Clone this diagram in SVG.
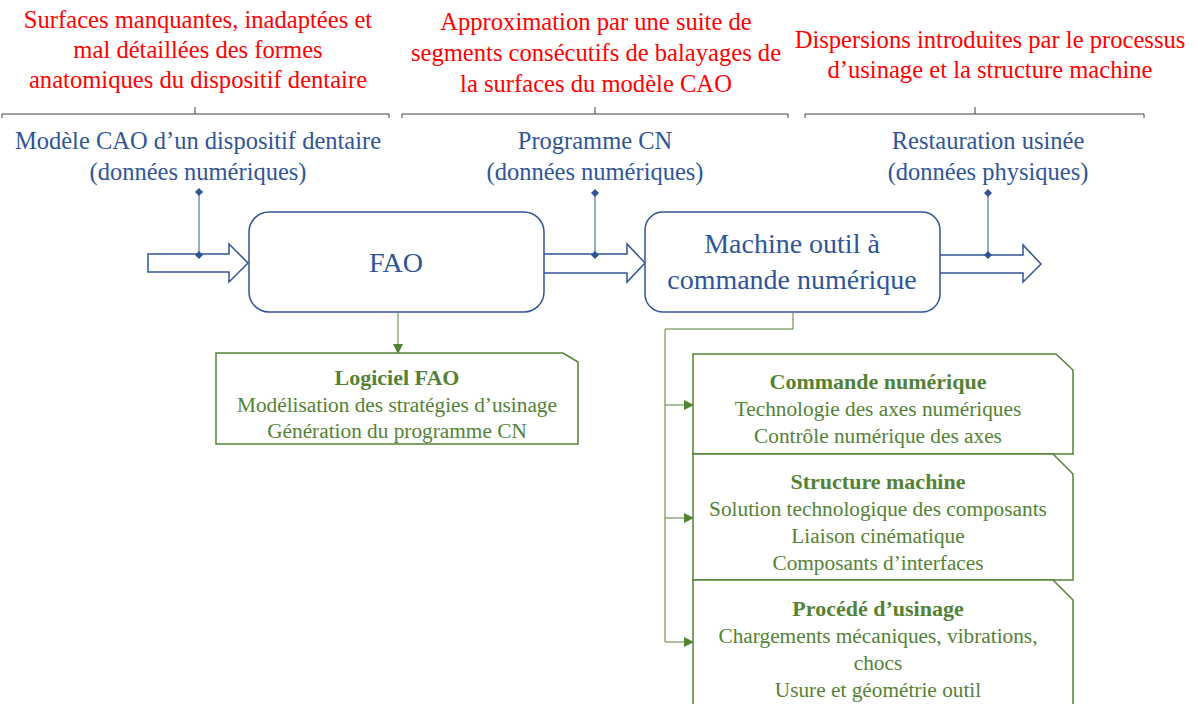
<svg xmlns="http://www.w3.org/2000/svg" width="1195" height="704" viewBox="0 0 1195 704">
<style>
text{font-family:"Liberation Serif","DejaVu Serif",serif;text-anchor:middle}
.red{fill:#FF0000;font-size:24.6px}
.blue{fill:#2F5597;font-size:24.5px}
.big{fill:#2F5597;font-size:28px}
.g{fill:#548235;font-size:21.3px}
.gb{fill:#548235;font-size:22px;font-weight:bold}
.br{fill:none;stroke:#404040;stroke-width:1}
.box{fill:#fff;stroke:#2F5597;stroke-width:1.5}
.barrow{fill:#fff;stroke:#2F5597;stroke-width:1.5;stroke-linejoin:miter}
.pin{stroke:#2F5597;stroke-width:1}
.gbox{fill:#fff;stroke:#548235;stroke-width:1.5}
.gl{fill:none;stroke:#548235;stroke-width:1}
</style>
<defs>
<marker id="dia" markerWidth="10" markerHeight="10" refX="5" refY="5" orient="auto" markerUnits="userSpaceOnUse">
<path d="M5,1 L9,5 L5,9 L1,5 Z" fill="#2F5597"/>
</marker>
<marker id="garr" markerWidth="10" markerHeight="10" refX="9" refY="5" orient="auto" markerUnits="userSpaceOnUse">
<path d="M0,0 L10,5 L0,10 Z" fill="#548235"/>
</marker>
</defs>

<g id="annotations">
<text class="red" x="198" y="28">Surfaces manquantes, inadaptées et</text>
<text class="red" x="198" y="58">mal détaillées des formes</text>
<text class="red" x="198" y="88">anatomiques du dispositif dentaire</text>
<text class="red" x="596" y="30">Approximation par une suite de</text>
<text class="red" x="596" y="61">segments consécutifs de balayages de</text>
<text class="red" x="596" y="92">la surfaces du modèle CAO</text>
<text class="red" x="990" y="48">Dispersions introduites par le processus</text>
<text class="red" x="990" y="78">d’usinage et la structure machine</text>
<path class="br" d="M2,118 V114 H389 V118 M195,114 V107"/>
<path class="br" d="M402,118 V114 H788 V118 M595,114 V107"/>
<path class="br" d="M805,118 V114 H1144 V118 M975,114 V107"/>
</g>

<g id="labels">
<text class="blue" x="198" y="149">Modèle CAO d’un dispositif dentaire</text>
<text class="blue" x="198" y="180">(données numériques)</text>
<text class="blue" x="595" y="149">Programme CN</text>
<text class="blue" x="595" y="180">(données numériques)</text>
<text class="blue" x="988" y="149">Restauration usinée</text>
<text class="blue" x="988" y="180">(données physiques)</text>
</g>

<g id="connectors">
<path class="barrow" d="M148,254 H229 V244 L248,263 L229,282 V272 H148 Z"/>
<path class="barrow" d="M544,254 H627 V244 L645,263 L627,282 V273 H544"/>
<path class="barrow" d="M940,255 H1023 V245 L1041,264 L1023,282 V273 H940"/>
<line class="pin" x1="199" y1="192" x2="199" y2="255" marker-start="url(#dia)" marker-end="url(#dia)"/>
<line class="pin" x1="595" y1="193" x2="595" y2="255" marker-start="url(#dia)" marker-end="url(#dia)"/>
<line class="pin" x1="988" y1="193" x2="988" y2="255" marker-start="url(#dia)" marker-end="url(#dia)"/>
<line class="gl" x1="398" y1="313" x2="398" y2="353" marker-end="url(#garr)"/>
<path class="gl" d="M793,313 V329 H665 V642"/>
<line class="gl" x1="665" y1="405" x2="693" y2="405" marker-end="url(#garr)"/>
<line class="gl" x1="665" y1="518" x2="693" y2="518" marker-end="url(#garr)"/>
<line class="gl" x1="665" y1="642" x2="693" y2="642" marker-end="url(#garr)"/>
</g>

<g id="fao">
<rect class="box" x="249" y="212" width="295" height="100" rx="20"/>
<text class="big" x="396" y="272">FAO</text>
</g>

<g id="machine">
<rect class="box" x="645" y="212" width="295" height="100" rx="18"/>
<text class="big" x="792" y="253">Machine outil à</text>
<text class="big" x="792" y="289">commande numérique</text>
</g>

<g id="logiciel">
<path class="gbox" d="M216,353 H563 L578,362 V444 H216 Z"/>
<text class="gb" x="397" y="385">Logiciel FAO</text>
<text class="g" x="397" y="412">Modélisation des stratégies d’usinage</text>
<text class="g" x="397" y="438">Génération du programme CN</text>
</g>

<g id="commande">
<path class="gbox" d="M693,354 H1056 L1073,370 V454 H693 Z"/>
<text class="gb" x="878" y="389">Commande numérique</text>
<text class="g" x="878" y="416">Technologie des axes numériques</text>
<text class="g" x="878" y="443">Contrôle numérique des axes</text>
</g>

<g id="structure">
<path class="gbox" d="M693,454 H1053 L1073,474 V580 H693 Z"/>
<text class="gb" x="878" y="489">Structure machine</text>
<text class="g" x="878" y="516">Solution technologique des composants</text>
<text class="g" x="878" y="543">Liaison cinématique</text>
<text class="g" x="878" y="570">Composants d’interfaces</text>
</g>

<g id="procede">
<path class="gbox" d="M693,580 H1053 L1073,600 V720 H693 Z"/>
<text class="gb" x="878" y="616">Procédé d’usinage</text>
<text class="g" x="878" y="643">Chargements mécaniques, vibrations,</text>
<text class="g" x="878" y="670">chocs</text>
<text class="g" x="878" y="697">Usure et géométrie outil</text>
</g>
</svg>
